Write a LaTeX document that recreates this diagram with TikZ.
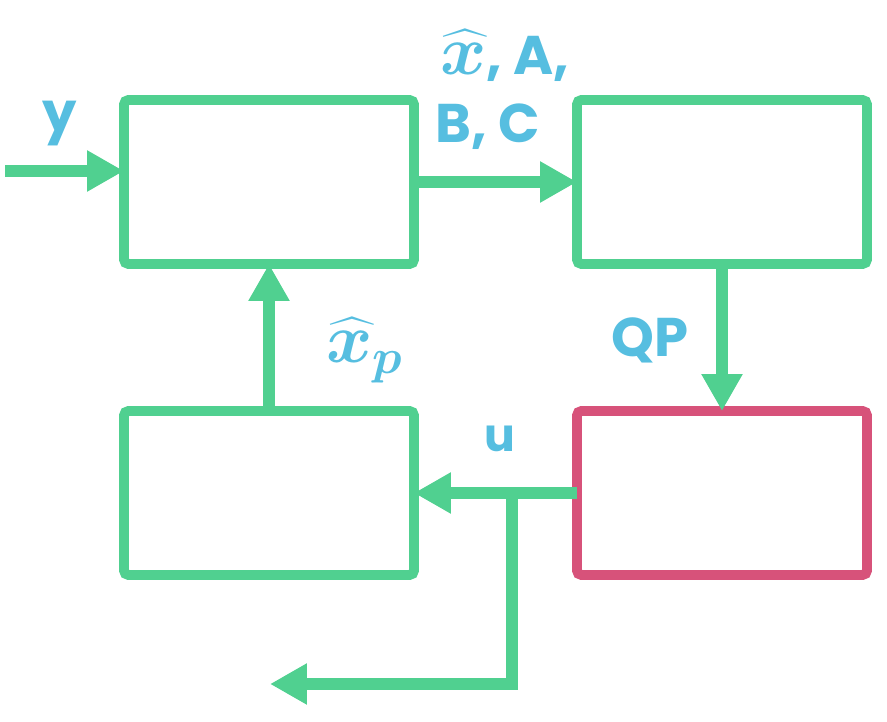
\documentclass[tikz,border=0pt]{standalone}
\usepackage{fix-cm}
\usepackage{fontspec}
\setsansfont{Poppins}
\usepackage{amsmath,bm}
\definecolor{LoopGreen}{RGB}{80,208,144}
\definecolor{LoopRed}{RGB}{215,82,122}
\definecolor{LoopBlue}{RGB}{86,190,224}
\usetikzlibrary{arrows.meta,positioning}
\newcommand{\bigmath}[1]{{\fontsize{40}{44}\selectfont\boldmath$#1$}}

\begin{document}
\begin{tikzpicture}[x=0.02cm, y=-0.02cm,
        blockbox/.style={draw=LoopGreen, line width=5.6pt, rounded corners=2.5pt,
            minimum width=5.8cm, minimum height=3.28cm, outer sep=0pt, inner sep=0pt},
        flow/.style={LoopGreen, line width=6.8pt,
            -{Triangle[length=21pt, width=22pt]}},
        lbl/.style={LoopBlue, font=\fontsize{31}{36}\sffamily\bfseries},
        small lbl/.style={LoopBlue, font=\fontsize{26}{30}\sffamily\bfseries}]
        \useasboundingbox (0,0) rectangle (887,722);
        % blocks
        \node[blockbox] (est) at (269,182) {};
        \node[blockbox] (ctrl) at (722,182) {};
        \node[blockbox] (pred) at (269,493) {};
        \node[blockbox, draw=LoopRed] (solver) at (722,493) {};
        % connectors
        \coordinate (meas) at (5,171);
        \coordinate (split) at (512,493);
        \coordinate (outu) at (270,684);
        \draw[flow] (meas) -- (meas -| est.west);
        \draw[flow] (est.east) -- (ctrl.west);
        \draw[flow] (ctrl.south) -- (solver.north);
        \draw[flow] (solver.west) -- (pred.east);
        \draw[flow] (pred.north) -- (est.south);
        \draw[flow] (split) -- (split |- outu) -- (outu);
        % labels
        \node[lbl] (ylbl) at (60,124) {y};
        \node[lbl, anchor=base west, inner sep=0pt] (xabc) at (440,75) {\bigmath{\widehat{x}}, A,};
        \node[lbl] (bc) at (488,127) {B, C};
        \node[lbl] (qp) at (650,340) {QP};
        \node[LoopBlue, inner sep=0pt] (xp) at (365,350) {\bigmath{\widehat{x}_p}};
        \node[small lbl] (ulbl) at (500,439) {u};
\end{tikzpicture}
\end{document}
